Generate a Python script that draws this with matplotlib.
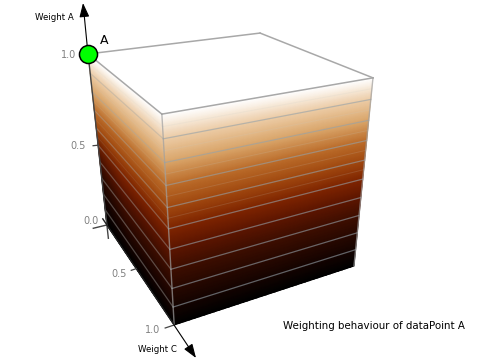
import numpy as np
import matplotlib
matplotlib.use("Agg")
import matplotlib.pyplot as plt
from matplotlib.colors import LinearSegmentedColormap

# weight levels and labels
grid_levels = [0.1, 0.2, 0.3, 0.4, 0.5, 0.6, 0.7, 0.8, 0.9]
faint_levels = [0.55, 0.65, 0.75, 0.85, 0.95]
tick_values = [0.0, 0.5, 1.0]
tick_labels = ["0.0", "0.5", "1.0"]
title = "Weighting behaviour of dataPoint A"

# colour ramp for Weight A
ramp_levels = [0.0, 0.1, 0.2, 0.3, 0.4, 0.5, 0.6, 0.7, 0.8, 0.9, 1.0]
ramp_colors = ["#000000", "#140300", "#280800", "#3e0e00", "#5c1500", "#7e2400",
               "#a0480f", "#bb6c2a", "#d9a468", "#eccba4", "#ffffff"]

# cube corners (weight A, weight B, weight C) and where they appear in the picture
corner_abc = [(0, 0, 0), (0, 0, 1), (0, 1, 1), (1, 0, 0), (1, 0, 1), (1, 1, 1), (1, 1, 0)]
corner_px = [(107, 225), (174, 325), (354, 266), (88, 54), (162, 114), (373, 78), (260, 33)]


def fit_camera(abc, px):
    rows, rhs = [], []
    for (a, b, c), (u, v) in zip(abc, px):
        rows.append([a, b, c, 1, 0, 0, 0, 0, -u * a, -u * b, -u * c])
        rhs.append(u)
        rows.append([0, 0, 0, 0, a, b, c, 1, -v * a, -v * b, -v * c])
        rhs.append(v)
    p = np.linalg.lstsq(np.array(rows, float), np.array(rhs, float), rcond=None)[0]
    return np.append(p, 1.0).reshape(3, 4)


CAM = fit_camera(corner_abc, corner_px)


def project(a, b, c):
    a, b, c = np.broadcast_arrays(a, b, c)
    h = np.stack([a, b, c, np.ones_like(a, dtype=float)], axis=-1) @ CAM.T
    return h[..., 0] / h[..., 2], h[..., 1] / h[..., 2]


plt.rcParams["font.family"] = "DejaVu Sans"
fig = plt.figure(figsize=(4.8, 3.6), dpi=100)
ax = fig.add_axes([0, 0, 1, 1])
ax.set_xlim(0, 480)
ax.set_ylim(360, 0)
ax.axis("off")

cmap = LinearSegmentedColormap.from_list("w", list(zip(ramp_levels, ramp_colors)), N=512)

# faces
aa, tt = np.meshgrid(np.linspace(0, 1, 161), np.linspace(0, 1, 41), indexing="ij")
# left face b=0, c varies: darker towards the left edge in its lower part
X, Y = project(aa, 0.0 * tt, tt)
rgba = cmap(aa)
shade = 0.5 + 0.5 * np.clip(tt / 0.4, 0, 1)
shade = shade + (1 - shade) * np.clip(aa / 0.6, 0, 1) ** 2
rgba[..., :3] *= shade[..., None]
ax.pcolormesh(X, Y, aa, shading="gouraud", cmap=cmap, vmin=0, vmax=1, zorder=1)
mesh = ax.collections[-1]
mesh.set_array(None)
mesh.set_facecolor(rgba.reshape(-1, 4))
# right face c=1, b varies
X, Y = project(aa, tt, 1.0 + 0 * tt)
ax.pcolormesh(X, Y, aa, shading="gouraud", cmap=cmap, vmin=0, vmax=1, zorder=1)

s = np.array([0.0, 1.0])
for level in faint_levels:
    ax.plot(*project(level, 0.0 * s, s), color="#c8ccc8", lw=0.7, alpha=0.1, zorder=2)
    ax.plot(*project(level, s, 1.0), color="#c8ccc8", lw=0.7, alpha=0.16, zorder=2)
for level in grid_levels:
    ax.plot(*project(level, 0.0 * s, s), color="#a8a8a4", lw=0.9, alpha=0.42, zorder=2)
    ax.plot(*project(level, s, 1.0), color="#95a2aa", lw=0.9, alpha=0.6, zorder=2)

# cube outline
edges = [((1, 0, 0), (1, 0, 1)), ((1, 0, 1), (1, 1, 1)), ((1, 1, 1), (1, 1, 0)), ((1, 1, 0), (1, 0, 0))]
for p, q in edges:
    ax.plot(*project(np.array([p[0], q[0]]), np.array([p[1], q[1]]), np.array([p[2], q[2]])),
            color="#a8a8a8", lw=1.1, zorder=3)
for p, q in [((1, 0, 1), (0, 0, 1)), ((1, 1, 1), (0, 1, 1))]:
    ax.plot(*project(np.array([p[0], q[0]]), np.array([p[1], q[1]]), np.array([p[2], q[2]])),
            color="#a0a0a0", lw=1.0, alpha=0.7, zorder=3)

AX = "#444444"
# axes extended past the origin
ax.plot(*project(np.array([-0.09, 1.0]), 0.0, 0.0), color=AX, lw=1.0, zorder=4)
ax.plot(*project(0.0, np.array([-0.08, 0.0]), 0.0), color=AX, lw=1.0, zorder=4)
ax.plot(*project(0.0, 0.0, np.array([-0.08, 1.0])), color="#222222", lw=1.0, zorder=4)

# arrows
for tip, base in [((83, 3), (88, 54)), ((196, 358), (174, 325))]:
    ax.annotate("", xy=tip, xytext=base, zorder=5,
                arrowprops=dict(arrowstyle="-|>,head_length=0.85,head_width=0.3", color="black", lw=0.8,
                                shrinkA=0, shrinkB=0))

# ticks and tick labels
TC = "#808080"
for v, lab in zip(tick_values, tick_labels):
    if v > 0:
        x0, y0 = project(v, 0.0, 0.0)
        ax.plot([x0 - 5, x0], [y0 + 0.5, y0], color=AX, lw=0.9, zorder=4)
        ax.text(x0 - 12, y0 + 1, lab, color=TC, fontsize=7, ha="right", va="center")
        x1, y1 = project(0.0, 0.0, v)
        tick_len = 9 * v if v == 1.0 else 5
        ax.plot([x1 - tick_len, x1], [y1 + tick_len / 3, y1], color=AX, lw=0.9, zorder=4)
        ax.text(x1 - tick_len - 5, y1 + 5, lab, color=TC, fontsize=7, ha="right", va="center")
ax.text(99, 221, tick_labels[0], color=TC, fontsize=7, ha="right", va="center")

ax.plot([88], [54], "o", ms=13, mfc="#00ff00", mec="black", mew=1.1, zorder=6)
ax.text(104, 40, "A", fontsize=9, ha="center", va="center", color="black")
ax.text(54.5, 17, "Weight A", fontsize=6.2, ha="center", va="center", color="black")
ax.text(157.5, 349, "Weight C", fontsize=6.2, ha="center", va="center", color="black")
ax.text(374, 326, title, fontsize=7.4, ha="center", va="center", color="black")

fig.savefig("out.png", dpi=100)
